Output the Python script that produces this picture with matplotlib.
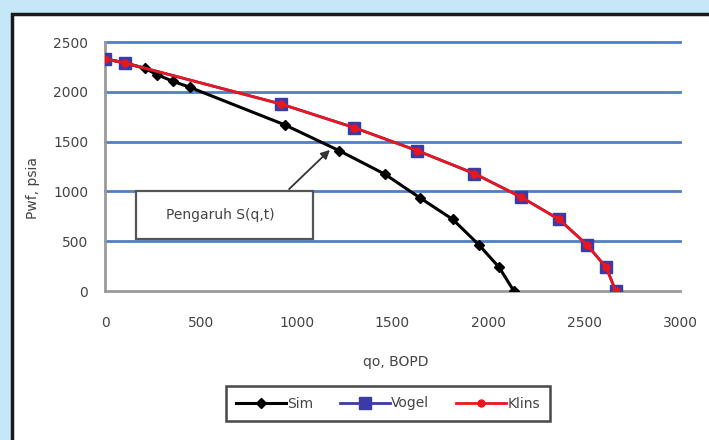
import numpy as np
import matplotlib.pyplot as plt
from matplotlib.patches import Rectangle

# data
q_sim = [0, 102, 209, 271, 355, 443, 938, 1223, 1460, 1642, 1815, 1950, 2057, 2133]
p_sim = [2331, 2291, 2235, 2172, 2105, 2045, 1668, 1408, 1173, 937, 718, 465, 236, 0]

q_vogel = [0, 102, 919, 1299, 1630, 1927, 2171, 2370, 2514, 2615, 2665]
p_vogel = [2331, 2291, 1877, 1641, 1408, 1179, 943, 718, 465, 236, 0]

q_klins = [0, 102, 919, 1299, 1630, 1927, 2171, 2370, 2514, 2615, 2665]
p_klins = [2331, 2291, 1877, 1641, 1408, 1179, 943, 718, 465, 236, 0]

x_ticks = [0, 500, 1000, 1500, 2000, 2500, 3000]
y_ticks = [0, 500, 1000, 1500, 2000, 2500]

plt.rcParams['font.family'] = ['DejaVu Sans']
txt_col = '#444444'

fig = plt.figure(figsize=(7.09, 4.40), dpi=100)
fig.patch.set_facecolor('#c6e7f7')

# white panel with black frame (behind the axes)
fig.patches.append(Rectangle((12 / 709, -0.1), 1.0, 1 - 14 / 440 + 0.1,
                             transform=fig.transFigure, facecolor='white',
                             edgecolor='#1a1a1a', linewidth=2.5, zorder=-10))

ax = fig.add_axes([105 / 709, 1 - 291 / 440, 575 / 709, 249 / 440])
ax.set_facecolor('none')
ax.set_zorder(1)

for y in y_ticks[1:]:
    ax.axhline(y, color='#4f7fc4', linewidth=2, zorder=1, clip_on=False)

ax.plot(q_sim, p_sim, color='black', linewidth=2.2, marker='D', markersize=5,
        label='Sim', zorder=3)
ax.plot(q_vogel, p_vogel, color='#3b3ba6', linewidth=2, marker='s', markersize=9,
        label='Vogel', zorder=4)
ax.plot(q_klins, p_klins, color='#e8161e', linewidth=2, marker='o', markersize=5,
        label='Klins', zorder=5)

ax.set_xlim(0, 3000)
ax.set_ylim(0, 2500)
ax.set_xticks(x_ticks)
ax.set_yticks(y_ticks)
ax.tick_params(length=0, labelsize=10, labelcolor=txt_col)
ax.tick_params(axis='x', pad=18)
ax.tick_params(axis='y', pad=12)
for s in ['top', 'right']:
    ax.spines[s].set_visible(False)
for s in ['left', 'bottom']:
    ax.spines[s].set_color('#9a9a9a')
    ax.spines[s].set_linewidth(2)

ax.set_xlabel('qo, BOPD', fontsize=10, color=txt_col)
ax.set_ylabel('Pwf, psia', fontsize=10, color=txt_col)
ax.xaxis.set_label_coords(0.506, -0.258)
ax.yaxis.set_label_coords(-0.113, 0.414)

# annotation box
ax.add_patch(Rectangle((162, 522), 923, 482, facecolor='white', edgecolor='#555555',
                       linewidth=1.6, zorder=6))
ax.text(600, 763, 'Pengaruh S(q,t)', fontsize=10, color=txt_col,
        ha='center', va='center', zorder=7)
ax.annotate('', xy=(1184, 1436), xytext=(950, 1004),
            arrowprops=dict(arrowstyle='-|>', color='#333333', lw=1.3,
                            mutation_scale=13), zorder=7)

leg = fig.legend(loc='center', bbox_to_anchor=(388 / 709, 1 - 403.5 / 440), ncol=3,
                 fontsize=10, frameon=True, fancybox=False, handlelength=3.6,
                 columnspacing=1.9, handletextpad=0.1, borderpad=0.75)
leg.get_frame().set_edgecolor('#1a1a1a')
leg.get_frame().set_linewidth(1.8)
for t in leg.get_texts():
    t.set_color(txt_col)

fig.savefig('out.png', dpi=100, facecolor=fig.get_facecolor())
